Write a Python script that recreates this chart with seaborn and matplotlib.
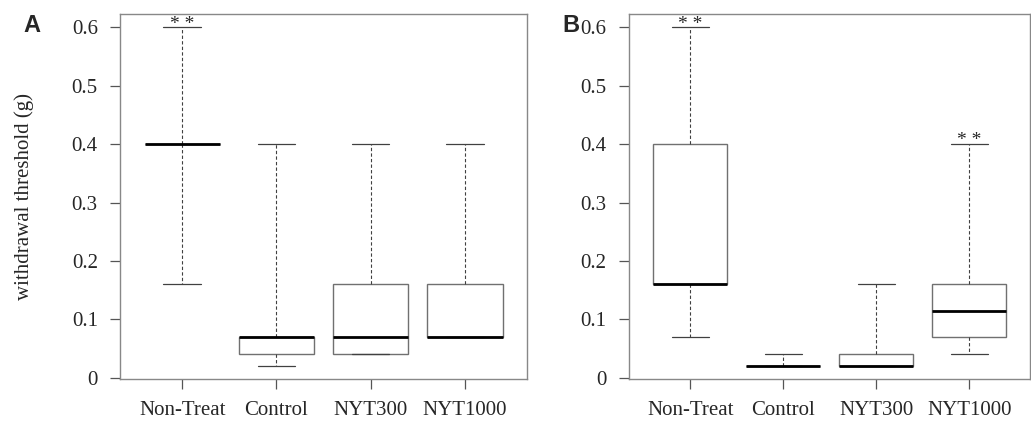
import numpy as np
import pandas as pd
import seaborn as sns
import matplotlib.pyplot as plt

# 그룹 이름
groups = ['Non-Treat', 'Control', 'NYT300', 'NYT1000']

# 패널 A: five-number summary (min, q1, median, q3, max) per group
a_nontreat = [0.16, 0.40, 0.40, 0.40, 0.60]
a_control = [0.02, 0.04, 0.07, 0.07, 0.40]
a_nyt300 = [0.04, 0.04, 0.07, 0.16, 0.40]
a_nyt1000 = [0.07, 0.07, 0.07, 0.16, 0.40]

# 패널 B
b_nontreat = [0.07, 0.16, 0.16, 0.40, 0.60]
b_control = [0.02, 0.02, 0.02, 0.02, 0.04]
b_nyt300 = [0.02, 0.02, 0.02, 0.04, 0.16]
b_nyt1000 = [0.04, 0.07, 0.115, 0.16, 0.40]

# significance marks
a_stars = ['Non-Treat']
b_stars = ['Non-Treat', 'NYT1000']

yticks = [0, 0.1, 0.2, 0.3, 0.4, 0.5, 0.6]
ytick_labels = ['0', '0.1', '0.2', '0.3', '0.4', '0.5', '0.6']


def to_long(summaries):
    rows = []
    for g, vals in zip(groups, summaries):
        for v in vals:
            rows.append({'group': g, 'value': v})
    return pd.DataFrame(rows)


df_a = to_long([a_nontreat, a_control, a_nyt300, a_nyt1000])
df_b = to_long([b_nontreat, b_control, b_nyt300, b_nyt1000])

sns.set_style('white')
plt.rcParams['font.family'] = ['Liberation Serif', 'DejaVu Serif']

fig = plt.figure(figsize=(10.31, 4.23), dpi=100)
ax_a = fig.add_axes([0.1164, 0.104, 0.3948, 0.863])
ax_b = fig.add_axes([0.610, 0.104, 0.3895, 0.863])

edge = '#707070'


def draw(ax, df, stars):
    sns.boxplot(data=df, x='group', y='value', order=groups, whis=(0, 100),
                width=0.8, color='white', linecolor=edge, linewidth=1.0,
                showfliers=False, ax=ax,
                medianprops=dict(color='black', linewidth=2.0),
                whiskerprops=dict(color='#404040', linestyle=(0, (3, 2)), linewidth=0.8),
                capprops=dict(color='#404040', linewidth=0.9))
    ax.set_xlim(-0.66, 3.66)
    ax.set_ylim(-0.002, 0.623)
    ax.set_yticks(yticks)
    ax.set_yticklabels(ytick_labels)
    ax.tick_params(axis='both', which='both', direction='out', length=7,
                   width=0.9, color='#555555', labelsize=15, pad=9,
                   left=True, bottom=True)
    ax.set_xlabel('')
    ax.set_ylabel('')
    for s in ax.spines.values():
        s.set_color('#888888')
        s.set_linewidth(1.0)
    # ** 표시
    for g in stars:
        i = groups.index(g)
        top = df[df['group'] == g]['value'].max()
        ax.text(i, top - 0.002, '* *', ha='center', va='baseline', fontsize=14)


draw(ax_a, df_a, a_stars)
draw(ax_b, df_b, b_stars)

ax_a.set_ylabel('withdrawal threshold (g)', fontsize=15, labelpad=27)

fig.text(0.031, 0.94, 'A', family='Liberation Sans', weight='bold', fontsize=17,
         ha='center', va='center')
fig.text(0.554, 0.94, 'B', family='Liberation Sans', weight='bold', fontsize=17,
         ha='center', va='center')

plt.savefig('out.png', dpi=100)
